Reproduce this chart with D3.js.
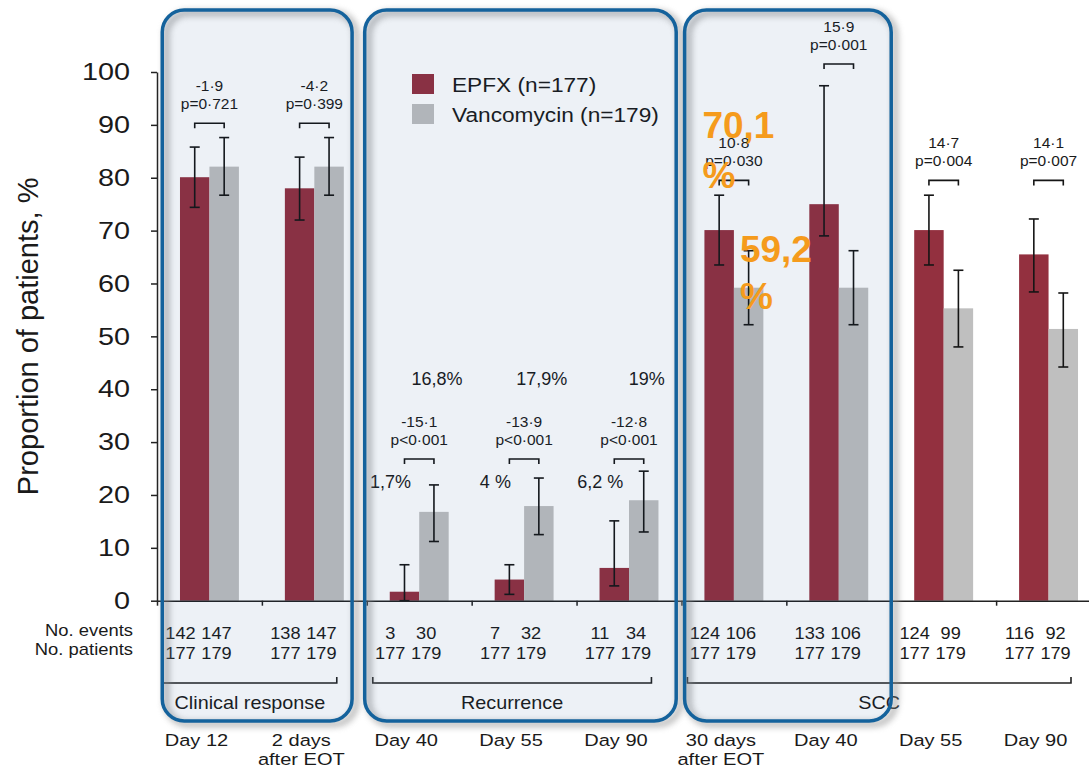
<!DOCTYPE html>
<html>
<head>
<meta charset="utf-8">
<script src="https://cdn.jsdelivr.net/npm/d3@7"></script>
<style>
  body { margin: 0; background: #fff; }
  svg { display: block; font-family: "Liberation Sans", Arial, sans-serif; }
</style>
</head>
<body>
<svg width="1089" height="769"></svg>
<script>
// --- data ---
const categories = ['Day 12', '2 days\nafter EOT', 'Day 40', 'Day 55', 'Day 90', '30 days\nafter EOT', 'Day 40', 'Day 55', 'Day 90'];
const epfx      = [80.1, 78.0, 1.7, 4.0, 6.2, 70.1, 75.0, 70.1, 65.5];
const epfxLow   = [74.4, 72.0, 0.0, 1.2, 2.8, 63.5, 69.0, 63.5, 58.4];
const epfxHigh  = [85.8, 83.9, 6.8, 6.8, 15.1, 76.7, 97.4, 76.7, 72.2];
const vanco     = [82.1, 82.1, 16.8, 17.9, 19.0, 59.2, 59.2, 55.3, 51.4];
const vancoLow  = [76.7, 76.7, 11.2, 12.5, 13.0, 52.2, 52.2, 48.0, 44.2];
const vancoHigh = [87.6, 87.6, 21.9, 23.2, 24.5, 66.2, 66.2, 62.5, 58.2];
const diffs  = ['-1·9', '-4·2', '-15·1', '-13·9', '-12·8', '10·8', '15·9', '14·7', '14·1'];
const pvals  = ['p=0·721', 'p=0·399', 'p<0·001', 'p<0·001', 'p<0·001', 'p=0·030', 'p=0·001', 'p=0·004', 'p=0·007'];
const bracketLevel = [90.3, 90.3, 26.8, 26.8, 26.8, 79.5, 101.5, 79.5, 79.5];
const eventsEpfx  = [142, 138, 3, 7, 11, 124, 133, 124, 116];
const eventsVanco = [147, 147, 30, 32, 34, 106, 106, 99, 92];
const patientsEpfx  = [177, 177, 177, 177, 177, 177, 177, 177, 177];
const patientsVanco = [179, 179, 179, 179, 179, 179, 179, 179, 179];
const groups = [
  { name: 'Clinical response', from: 0, to: 1 },
  { name: 'Recurrence', from: 2, to: 4 },
  { name: 'SCC', from: 5, to: 8 }
];
const recurrenceEpfxLabels  = ['1,7%', '4 %', '6,2 %'];
const recurrenceVancoLabels = ['16,8%', '17,9%', '19%'];
const series = ['EPFX (n=177)', 'Vancomycin (n=179)'];
const yTicks = [0, 10, 20, 30, 40, 50, 60, 70, 80, 90, 100];

const RED = '#93303F';
const GRAY = '#BFBFBF';
const BLUE = '#14629C';
const ORANGE = '#F59B1C';

const svg = d3.select('svg');

// blur for box shadows
svg.append('defs').append('filter').attr('id', 'sh')
  .attr('x', '-10%').attr('y', '-10%').attr('width', '120%').attr('height', '120%')
  .append('feGaussianBlur').attr('stdDeviation', 3);

function label(parent, x, y, str, size, anchor = 'middle', sx = 1, weight = 'normal', fill = '#1a1a1a') {
  return parent.append('text')
    .attr('transform', `translate(${x},${y}) scale(${sx},1)`)
    .attr('text-anchor', anchor)
    .style('font-size', size + 'px')
    .style('font-weight', weight)
    .style('fill', fill)
    .text(str);
}

// --- scales ---
const y = d3.scaleLinear().domain([0, 100]).range([600.7, 72]);
const xIdx = d3.scaleLinear().domain([0, categories.length]).range([157, 1101]);
const xb = d3.scaleBand().domain(d3.range(categories.length)).range([157, 1101]).padding(0);
const xi = d3.scaleBand().domain(['epfx', 'vanco']).range([0, xb.bandwidth()]).paddingOuter(0.78);

const cx = i => xb(i) + xb.bandwidth() / 2;
const redC = i => xb(i) + xi('epfx') + xi.bandwidth() / 2;
const grayC = i => xb(i) + xi('vanco') + xi.bandwidth() / 2;

// --- bars ---
const idx = d3.range(categories.length);
svg.append('g').selectAll('rect.epfx').data(idx).enter().append('rect')
  .attr('x', i => xb(i) + xi('epfx'))
  .attr('y', i => y(epfx[i]))
  .attr('width', xi.bandwidth())
  .attr('height', i => y(0) - y(epfx[i]))
  .attr('fill', RED);

svg.append('g').selectAll('rect.vanco').data(idx).enter().append('rect')
  .attr('x', i => xb(i) + xi('vanco'))
  .attr('y', i => y(vanco[i]))
  .attr('width', xi.bandwidth())
  .attr('height', i => y(0) - y(vanco[i]))
  .attr('fill', GRAY);

// --- error bars ---
const err = svg.append('g').attr('stroke', '#151515').attr('stroke-width', 1.6);
function errorBar(xc, lo, hi) {
  err.append('line').attr('x1', xc).attr('x2', xc).attr('y1', y(lo)).attr('y2', y(hi));
  err.append('line').attr('x1', xc - 5).attr('x2', xc + 5).attr('y1', y(lo)).attr('y2', y(lo));
  err.append('line').attr('x1', xc - 5).attr('x2', xc + 5).attr('y1', y(hi)).attr('y2', y(hi));
}
idx.forEach(i => {
  errorBar(redC(i), epfxLow[i], epfxHigh[i]);
  errorBar(grayC(i), vancoLow[i], vancoHigh[i]);
});

// --- axes ---
const yAxis = svg.append('g')
  .attr('transform', `translate(${xIdx(0)},0)`)
  .call(d3.axisLeft(y).tickValues(yTicks).tickSize(6).tickSizeOuter(0));
yAxis.select('.domain').attr('stroke', '#222').attr('stroke-width', 1.5);
yAxis.selectAll('.tick line').attr('stroke', '#222').attr('stroke-width', 1.5);
yAxis.selectAll('.tick text')
  .attr('x', null)
  .attr('transform', 'translate(-27,0) scale(1.2,1)')
  .style('font-size', '24px')
  .style('fill', '#1a1a1a')
  .attr('font-family', null);

const xAxis = svg.append('g')
  .attr('transform', `translate(0,${y(0)})`)
  .call(d3.axisBottom(xIdx).tickValues(d3.range(categories.length + 1)).tickSize(5).tickSizeOuter(0).tickFormat(''));
xAxis.select('.domain').attr('stroke', '#222').attr('stroke-width', 1.5);
xAxis.selectAll('.tick line').attr('stroke', '#222').attr('stroke-width', 1.5);

// y title
svg.append('text')
  .attr('transform', `translate(38,${(y(0) + y(100)) / 2}) rotate(-90)`)
  .attr('text-anchor', 'middle')
  .style('font-size', '29px')
  .style('fill', '#1a1a1a')
  .text('Proportion of patients, %');

// --- difference brackets + p values ---
const br = svg.append('g').attr('stroke', '#151515').attr('stroke-width', 1.6).attr('fill', 'none');
idx.forEach(i => {
  const yl = y(bracketLevel[i]);
  br.append('path').attr('d', `M${redC(i)},${yl + 5}V${yl}H${grayC(i)}V${yl + 5}`);
  const mid = (redC(i) + grayC(i)) / 2;
  label(svg, mid, yl - 32, diffs[i], 15.5);
  label(svg, mid, yl - 14, pvals[i], 15.5);
});

// recurrence percentages written on the slide
[2, 3, 4].forEach((c, k) => {
  label(svg, redC(c) - 14, y(22.4) + 6, recurrenceEpfxLabels[k], 18);
  label(svg, grayC(c) + 3, y(42) + 6, recurrenceVancoLabels[k], 18);
});

// --- table under the axis ---
const tableShift = -11;
label(svg, 133, 636, 'No. events', 16, 'end', 1.15);
label(svg, 133, 655, 'No. patients', 16, 'end', 1.15);
idx.forEach(i => {
  const c = cx(i) + tableShift;
  label(svg, c - 18, 639, eventsEpfx[i], 17, 'middle', 1.07);
  label(svg, c + 18, 639, eventsVanco[i], 17, 'middle', 1.07);
  label(svg, c - 18, 659, patientsEpfx[i], 17, 'middle', 1.07);
  label(svg, c + 18, 659, patientsVanco[i], 17, 'middle', 1.07);
});

// group brackets
const gb = svg.append('g').attr('stroke', '#222').attr('stroke-width', 1.6).attr('fill', 'none');
groups.forEach(g => {
  const x0 = xb(g.from) + 6;
  const x1 = xb(g.to) + xb.bandwidth() - 30;
  gb.append('path').attr('d', `M${x0},677V683H${x1}V677`);
  label(svg, (x0 + x1) / 2, 709, g.name, 18, 'middle', 1.1);
});

// category labels
idx.forEach(i => {
  const lines = categories[i].split('\n');
  lines.forEach((ln, k) => label(svg, cx(i) - 13, 746 + k * 19, ln, 17, 'middle', 1.18));
});

// --- legend ---
const lg = svg.append('g').attr('transform', 'translate(412,74)');
series.forEach((s, k) => {
  lg.append('rect').attr('x', 0).attr('y', k * 30).attr('width', 22).attr('height', 20)
    .attr('fill', k === 0 ? RED : GRAY);
  label(lg, 40, k * 30 + 18, s, 21, 'start', 1.08);
});

// --- highlight boxes (rounded, translucent) ---
const boxes = [
  { from: xIdx(0.05), to: xIdx(1.86) },
  { from: xIdx(1.98), to: xIdx(4.95) },
  { from: xIdx(5.03), to: xIdx(7.0) }
];
const boxLayer = svg.append('g');
boxes.forEach(b => {
  boxLayer.append('rect')
    .attr('x', b.from + 4).attr('y', 13).attr('width', b.to - b.from).attr('height', 711)
    .attr('rx', 22).attr('ry', 22)
    .attr('fill', 'none').attr('stroke', '#8a8a8a').attr('stroke-width', 6)
    .attr('opacity', 0.6)
    .attr('filter', 'url(#sh)');
  boxLayer.append('rect')
    .attr('x', b.from).attr('y', 10).attr('width', b.to - b.from).attr('height', 711)
    .attr('rx', 22).attr('ry', 22)
    .attr('fill', '#0F4487').attr('fill-opacity', 0.075)
    .attr('stroke', BLUE).attr('stroke-width', 3.5);
});

// orange call-outs for SCC at 30 days
label(svg, xb(5) + xi('epfx') - 2, y(87.5), '70,1', 37, 'start', 1, 'bold', ORANGE);
label(svg, xb(5) + xi('epfx') - 2, y(78), '%', 37, 'start', 1, 'bold', ORANGE);
label(svg, xb(5) + xi('vanco') + 6, y(64), '59,2', 37, 'start', 1, 'bold', ORANGE);
label(svg, xb(5) + xi('vanco') + 6, y(55.2), '%', 37, 'start', 1, 'bold', ORANGE);
</script>
</body>
</html>
